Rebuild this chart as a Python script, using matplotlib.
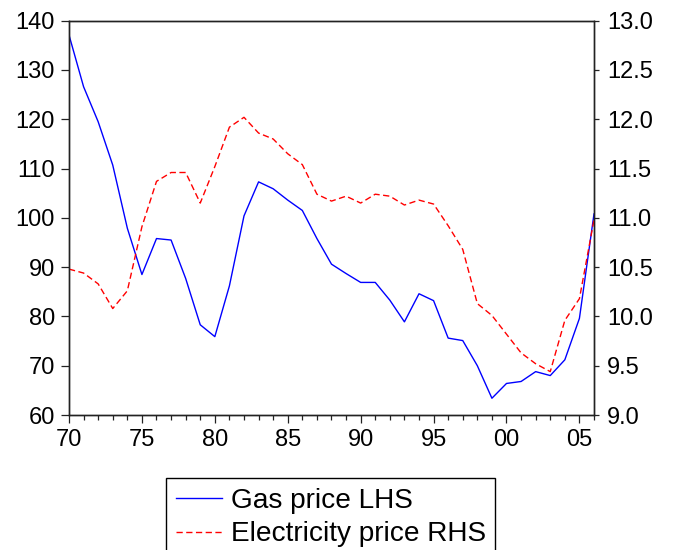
import matplotlib
matplotlib.use("Agg")
import matplotlib.pyplot as plt
from matplotlib.ticker import MultipleLocator, FormatStrFormatter

plt.rcParams['font.family'] = ['Liberation Sans', 'DejaVu Sans']

years = list(range(1970, 2007))
gas_price = [137.1, 126.6, 119.5, 110.7, 97.9, 88.5, 95.8, 95.5, 87.7, 78.3,
             75.9, 86.2, 100.4, 107.3, 105.9, 103.6, 101.5, 95.8, 90.6, 88.7,
             86.9, 86.9, 83.3, 78.9, 84.6, 83.2, 75.6, 75.1, 70.0, 63.4,
             66.4, 66.8, 68.8, 68.0, 71.2, 79.6, 100.8]
elec_price = [10.48, 10.44, 10.33, 10.08, 10.26, 10.91, 11.37, 11.46, 11.46, 11.15,
              11.52, 11.92, 12.02, 11.86, 11.80, 11.65, 11.54, 11.24, 11.17, 11.22,
              11.15, 11.24, 11.22, 11.13, 11.18, 11.14, 10.92, 10.68, 10.13, 10.01,
              9.82, 9.63, 9.52, 9.44, 9.96, 10.18, 10.98]
xtick_years = [1970, 1975, 1980, 1985, 1990, 1995, 2000, 2005]
xtick_labels = ["70", "75", "80", "85", "90", "95", "00", "05"]

fig = plt.figure(figsize=(6.74, 5.50), dpi=100)
ax = fig.add_axes([69/674, 1-415/550, (594-69)/674, (415-20.7)/550])
ax2 = ax.twinx()

l1, = ax.plot(years, gas_price, color='#0000ff', lw=1.0, label='Gas price LHS')
l2, = ax2.plot(years, elec_price, color='#ff0000', lw=1.0, ls=(0, (4.5, 2.5)),
               label='Electricity price RHS')

ax.set_xlim(1970, 2006)
ax.set_ylim(60, 140)
ax2.set_ylim(9.0, 13.0)
ax.set_yticks(range(60, 141, 10))
ax2.set_yticks([9.0 + 0.5 * i for i in range(9)])
ax2.yaxis.set_major_formatter(FormatStrFormatter('%.1f'))
ax.set_xticks(xtick_years)
ax.set_xticklabels(xtick_labels)
ax.xaxis.set_minor_locator(MultipleLocator(1))

for a in (ax, ax2):
    for s in a.spines.values():
        s.set_linewidth(1.0)
        s.set_color('#222222')

ax.tick_params(axis='y', which='major', direction='out', length=6, width=0.9,
               labelsize=17, pad=4, colors='#222222', labelcolor='black')
ax.tick_params(axis='x', which='major', direction='out', length=6, width=0.9,
               labelsize=17, pad=4, colors='#222222', labelcolor='black')
ax.tick_params(axis='x', which='minor', direction='out', length=3.5, width=0.9,
               colors='#222222')
ax2.tick_params(axis='y', which='major', direction='out', length=3.5, width=0.9,
                labelsize=17, pad=6, colors='#222222', labelcolor='black')

leg = fig.legend([l1, l2], ['Gas price LHS', 'Electricity price RHS'],
                 loc='upper left', bbox_to_anchor=(166/674, 1-478/550),
                 bbox_transform=fig.transFigure,
                 fontsize=20.2, frameon=True, fancybox=False, framealpha=1,
                 edgecolor='black', borderpad=0.35, labelspacing=0.27,
                 handlelength=1.65, handletextpad=0.3, borderaxespad=0)
leg.get_frame().set_linewidth(1.0)

fig.savefig('out.png', dpi=100)
